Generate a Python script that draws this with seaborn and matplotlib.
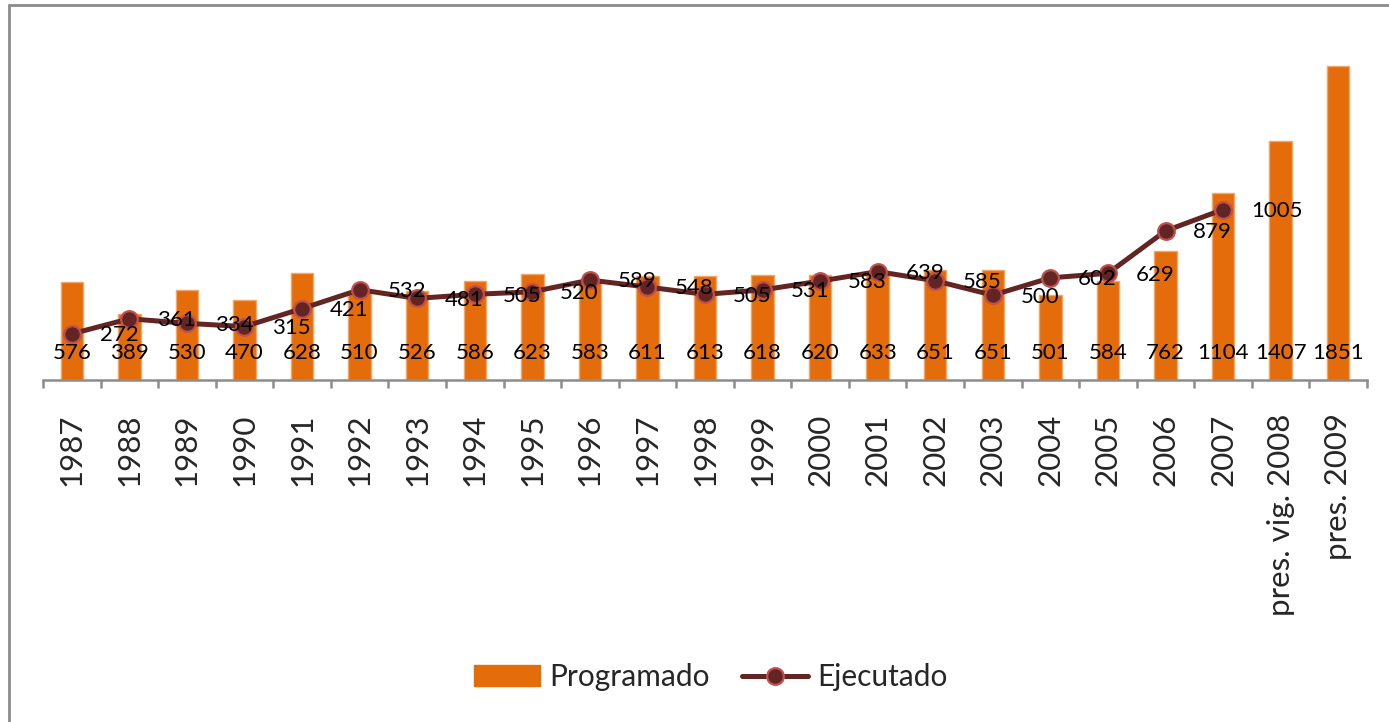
import matplotlib
matplotlib.use("Agg")
import matplotlib.pyplot as plt
from matplotlib.lines import Line2D
from matplotlib.patches import Patch
import seaborn as sns

# data
categorias = ['1987', '1988', '1989', '1990', '1991', '1992', '1993', '1994',
              '1995', '1996', '1997', '1998', '1999', '2000', '2001', '2002',
              '2003', '2004', '2005', '2006', '2007', 'pres. vig. 2008', 'pres. 2009']
programado = [576, 389, 530, 470, 628, 510, 526, 586, 623, 583, 611, 613,
              618, 620, 633, 651, 651, 501, 584, 762, 1104, 1407, 1851]
ejecutado = [272, 361, 334, 315, 421, 532, 481, 505, 520, 589, 548, 505,
             531, 583, 639, 585, 500, 602, 629, 879, 1005]

ORANGE = '#E46C0A'
MAROON = '#632523'
RED_EDGE = '#C0504D'
GRAY = '#8C8C8C'

sns.set_style('white')
plt.rcParams['font.family'] = ['Lato', 'DejaVu Sans']

fig = plt.figure(figsize=(13.89, 7.22), dpi=100)
ax = fig.add_axes([43 / 1389, 1 - 380 / 722, (1367 - 43) / 1389, (380 - 40.7) / 722])

sns.barplot(x=categorias, y=programado, color=ORANGE, width=0.39,
            edgecolor='#F2A66A', linewidth=1, saturation=1, ax=ax)
sns.pointplot(x=categorias[:len(ejecutado)], y=ejecutado, order=categorias,
              color=MAROON, markers='o', linestyles='-', markersize=12,
              linewidth=3.6, errorbar=None, markeredgecolor=RED_EDGE,
              markeredgewidth=1.6, ax=ax)

# data labels
for i, v in enumerate(programado):
    ax.annotate(str(v), (i, 0), xytext=(0, 19.5), textcoords='offset points',
                ha='center', va='center', fontsize=16, color='black', zorder=5)
for i, v in enumerate(ejecutado):
    ax.annotate(str(v), (i, v), xytext=(20, -1), textcoords='offset points',
                ha='left', va='center', fontsize=16, color='black', zorder=5)

ax.set_ylim(0, 2000)
ax.set_xlim(-0.5, len(categorias) - 0.5)
ax.set_yticks([])
ax.set_xlabel('')
ax.set_ylabel('')
for s in ['top', 'right', 'left']:
    ax.spines[s].set_visible(False)
ax.spines['bottom'].set_color(GRAY)
ax.spines['bottom'].set_linewidth(1.8)

ax.set_xticks(range(len(categorias)))
ax.set_xticklabels(categorias, rotation=90, fontsize=22.5, va='top')
ax.tick_params(axis='x', which='major', length=0, pad=24)
ax.set_xticks([i - 0.5 for i in range(len(categorias) + 1)], minor=True)
ax.tick_params(axis='x', which='minor', length=6, width=1.8, color=GRAY,
               direction='out', bottom=True)

handles = [Patch(facecolor=ORANGE, edgecolor=ORANGE),
           Line2D([], [], color=MAROON, lw=3.6, marker='o', markersize=12,
                  markerfacecolor=MAROON, markeredgecolor=RED_EDGE, markeredgewidth=1.6)]
fig.legend(handles, ['Programado', 'Ejecutado'], loc='center',
           bbox_to_anchor=(711 / 1389, 1 - 677 / 722), ncol=2, frameon=False,
           fontsize=21.5, handlelength=2.2, handleheight=0.7, handletextpad=0.3,
           columnspacing=1.1)

# outer chart border (only top and left visible in the crop)
fig.add_artist(Line2D([8.5 / 1389, 1.0], [1 - 5 / 722, 1 - 5 / 722],
                      transform=fig.transFigure, color=GRAY, lw=2))
fig.add_artist(Line2D([8.5 / 1389, 8.5 / 1389], [1 - 5 / 722, 0],
                      transform=fig.transFigure, color=GRAY, lw=2))

fig.savefig('out.png', dpi=100)
